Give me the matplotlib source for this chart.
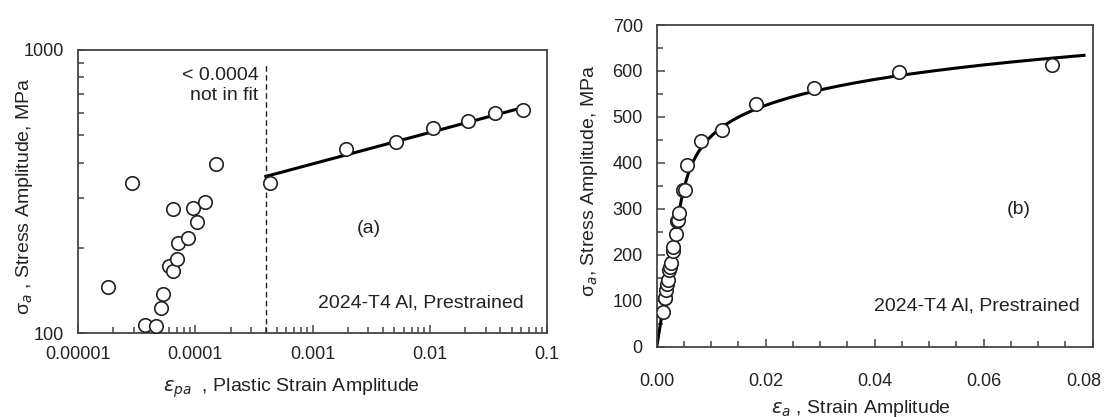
import numpy as np
import matplotlib
matplotlib.use("Agg")
import matplotlib.pyplot as plt
import matplotlib.transforms as mtrans
from matplotlib.ticker import LogLocator, FixedLocator, FixedFormatter, MultipleLocator, NullFormatter

plt.rcParams['font.family'] = ['Liberation Sans', 'DejaVu Sans']
plt.rcParams['mathtext.fontset'] = 'dejavusans'

# (a) plastic strain amplitude vs stress amplitude (log-log)
eps_pa_excl = [1.79e-5, 2.87e-5, 3.73e-5, 4.63e-5, 5.10e-5, 5.28e-5, 6.01e-5, 6.50e-5,
               6.95e-5, 6.50e-5, 7.08e-5, 8.73e-5, 9.50e-5, 1.03e-4, 1.21e-4, 1.50e-4]
sig_excl = [145, 340, 107, 106, 123, 137, 173, 166,
            182, 274, 208, 217, 276, 246, 291, 395]
eps_pa_fit = [4.3e-4, 1.93e-3, 5.12e-3, 1.07e-2, 2.13e-2, 3.60e-2, 6.28e-2]
sig_fit = [340, 447, 472, 529, 563, 597, 614]

# cyclic stress-strain fit: sigma = H * eps_pa ** n
H_fit = 852
n_fit = 0.111
E_mod = 73100
cutoff = 0.0004
fit_range = [0.0004, 0.067]

# (b) total strain amplitude vs stress amplitude (linear)
eps_a = [0.00121, 0.00150, 0.00152, 0.00173, 0.00193, 0.00200, 0.00234, 0.00243, 0.00256,
         0.00291, 0.00306, 0.00347, 0.00380, 0.00387, 0.00410, 0.00475, 0.00512, 0.00558,
         0.00812, 0.0120, 0.0182, 0.0289, 0.0445, 0.0725]
sig_a = [76, 106, 107, 123, 137, 145, 166, 173, 182,
         208, 217, 246, 274, 276, 291, 340, 340, 395,
         447, 472, 529, 563, 597, 614]
sig_curve_max = 634
strain_ticks = [0.0, 0.02, 0.04, 0.06, 0.08]

ink = '#222222'
spine = '#444444'
fs = 14
fs_tick = 13

fig = plt.figure(figsize=(11.06, 4.17), dpi=100)
ax1 = fig.add_axes([0.0705, 0.2014, 0.4241, 0.6787])
ax2 = fig.add_axes([0.5938, 0.1686, 0.3940, 0.7714])

mk = dict(marker='o', ms=9.7, mfc='white', mec=ink, mew=1.2, ls='none', zorder=3)

# ---- panel (a)
ax1.set_xscale('log')
ax1.set_yscale('log')
ax1.plot(eps_pa_excl, sig_excl, **mk)
ax1.plot(eps_pa_fit, sig_fit, **mk)
xf = np.logspace(np.log10(fit_range[0]), np.log10(fit_range[1]), 50)
ax1.plot(xf, H_fit * xf ** n_fit, color='black', lw=2.2, zorder=2)
ax1.plot([cutoff, cutoff], [100, 885], color=ink, lw=1, ls=(0, (4, 2.5)))
ax1.set_xlim(1e-5, 0.1)
ax1.set_ylim(100, 1000)
ax1.xaxis.set_major_locator(FixedLocator([1e-5, 1e-4, 1e-3, 1e-2, 1e-1]))
ax1.xaxis.set_major_formatter(FixedFormatter(['0.00001', '0.0001', '0.001', '0.01', '0.1']))
ax1.xaxis.set_minor_locator(LogLocator(base=10, subs=np.arange(2, 10)))
ax1.xaxis.set_minor_formatter(NullFormatter())
ax1.yaxis.set_major_locator(FixedLocator([100, 1000]))
ax1.yaxis.set_major_formatter(FixedFormatter(['100', '1000']))
ax1.yaxis.set_minor_locator(LogLocator(base=10, subs=np.arange(2, 10)))
ax1.yaxis.set_minor_formatter(NullFormatter())
ax1.text(0.000345, 870, '< 0.0004\nnot in fit', ha='right', va='top', fontsize=fs,
         color=ink, linespacing=1.2)
ax1.text(0.62, 0.37, '(a)', transform=ax1.transAxes, fontsize=fs, color=ink, ha='center', va='center')
ax1.text(0.95, 0.105, '2024-T4 Al, Prestrained', transform=ax1.transAxes, fontsize=fs,
         color=ink, ha='right', va='center')
ax1.set_xlabel(r'$\varepsilon_{pa}$  , Plastic Strain Amplitude', fontsize=fs, color=ink)
ax1.set_ylabel(r'σ$_a$ , Stress Amplitude, MPa', fontsize=fs, color=ink)
ax1.xaxis.set_label_coords(0.456, -0.155)
ax1.yaxis.set_label_coords(-0.092, 0.484)

# ---- panel (b)
ss = np.linspace(0, sig_curve_max, 300)
ee = ss / E_mod + (ss / H_fit) ** (1 / n_fit)
ax2.plot(ee, ss, color='black', lw=2.2, zorder=2)
ax2.plot(eps_a, sig_a, **mk)
ax2.set_xlim(0, 0.08)
ax2.set_ylim(0, 700)
ax2.xaxis.set_major_locator(FixedLocator(strain_ticks))
ax2.xaxis.set_major_formatter(FixedFormatter(['%.2f' % v for v in strain_ticks]))
ax2.xaxis.set_minor_locator(MultipleLocator(0.005))
ax2.yaxis.set_major_locator(MultipleLocator(100))
ax2.yaxis.set_minor_locator(MultipleLocator(50))
ax2.text(0.83, 0.425, '(b)', transform=ax2.transAxes, fontsize=fs, color=ink, ha='center', va='center')
ax2.text(0.97, 0.128, '2024-T4 Al, Prestrained', transform=ax2.transAxes, fontsize=fs,
         color=ink, ha='right', va='center')
ax2.set_xlabel(r'$\varepsilon_a$ , Strain Amplitude', fontsize=fs, color=ink)
ax2.set_ylabel(r'σ$_a$, Stress Amplitude, MPa', fontsize=fs, color=ink)
ax2.xaxis.set_label_coords(0.469, -0.16)
ax2.yaxis.set_label_coords(-0.13, 0.515)

for ax, xpad in ((ax1, 9), (ax2, 19)):
    for s in ax.spines.values():
        s.set_color(spine)
        s.set_linewidth(1.3)
    ax.tick_params(which='both', direction='in', top=False, right=False, colors=spine,
                   labelcolor=ink, labelsize=fs_tick, width=1.1)
    ax.tick_params(which='major', length=6)
    ax.tick_params(which='minor', length=4)
    ax.tick_params(axis='x', which='both', pad=xpad)
    ax.tick_params(axis='y', which='both', pad=10)

# the last strain label sits a little inside the frame, as in the original
fig.canvas.draw()
for t in ax2.xaxis.get_major_ticks():
    if t.label1.get_text() == '0.08':
        t.label1.set_transform(t.label1.get_transform()
                               + mtrans.ScaledTranslation(-9 / 100, 0, fig.dpi_scale_trans))

fig.savefig('out.png', dpi=100)
